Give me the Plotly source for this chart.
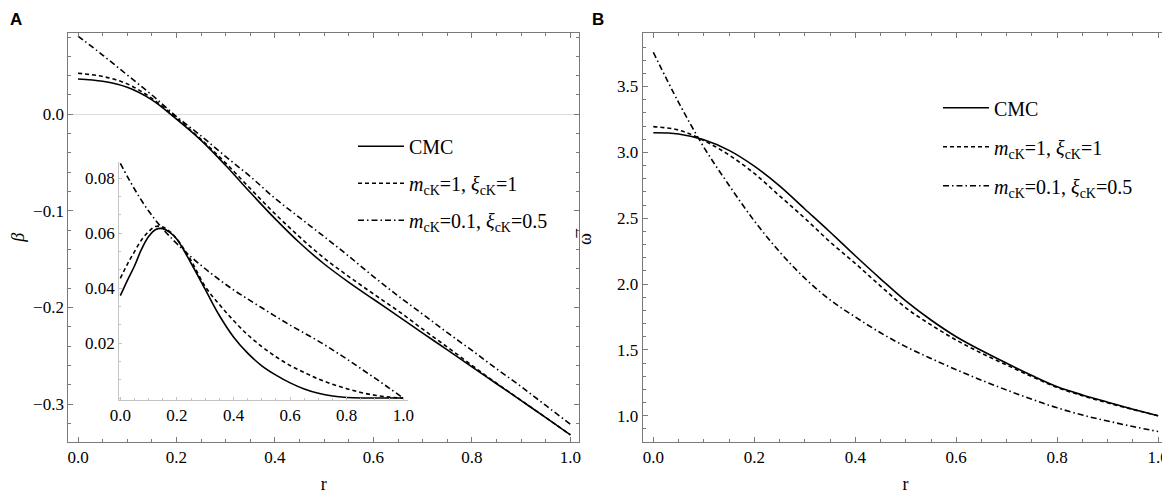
import plotly.graph_objects as go

# radial grid used for the main curves (every 0.05)
r = [0.00, 0.05, 0.10, 0.15, 0.20, 0.25, 0.30, 0.35, 0.40, 0.45, 0.50,
     0.55, 0.60, 0.65, 0.70, 0.75, 0.80, 0.85, 0.90, 0.95, 1.00]

# panel A: beta(r)
beta_cmc = [0.0366, 0.0342, 0.0280, 0.0150, -0.0050, -0.0270, -0.0530, -0.0810, -0.1080, -0.1330, -0.1550,
            -0.1740, -0.1915, -0.2090, -0.2265, -0.2440, -0.2615, -0.2790, -0.2965, -0.3140, -0.3320]
beta_m1 = [0.0425, 0.0392, 0.0315, 0.0165, -0.0040, -0.0260, -0.0505, -0.0770, -0.1030, -0.1270, -0.1490,
           -0.1680, -0.1860, -0.2035, -0.2225, -0.2410, -0.2600, -0.2785, -0.2962, -0.3140, -0.3320]
beta_m01 = [0.0810, 0.0614, 0.0407, 0.0200, -0.0024, -0.0224, -0.0438, -0.0645, -0.0870, -0.1070, -0.1267,
            -0.1470, -0.1680, -0.1880, -0.2070, -0.2260, -0.2445, -0.2635, -0.2820, -0.3015, -0.3210]

# inset: delta beta(r), finer steps near the peak
r_in = [0.000, 0.025, 0.050, 0.075, 0.100, 0.125, 0.150, 0.175, 0.200, 0.250, 0.300, 0.350, 0.400,
        0.450, 0.500, 0.550, 0.600, 0.650, 0.700, 0.750, 0.800, 0.850, 0.900, 0.950, 1.000]
dbeta_cmc = [0.0372, 0.0428, 0.0480, 0.0541, 0.0587, 0.0613, 0.0616, 0.0602, 0.0577, 0.0490, 0.0395, 0.0300, 0.0222,
             0.0163, 0.0117, 0.0083, 0.0055, 0.0033, 0.0017, 0.0007, 0.0002, 0.0000, 0.0000, 0.0000, 0.0000]
dbeta_m1 = [0.0435, 0.0487, 0.0532, 0.0575, 0.0605, 0.0624, 0.0622, 0.0605, 0.0578, 0.0500, 0.0405, 0.0340, 0.0282,
            0.0230, 0.0187, 0.0150, 0.0118, 0.0093, 0.0069, 0.0050, 0.0034, 0.0020, 0.0010, 0.0003, 0.0000]
dbeta_m01 = [0.0853, 0.0805, 0.0760, 0.0718, 0.0680, 0.0646, 0.0615, 0.0587, 0.0561, 0.0513, 0.0470, 0.0430, 0.0393,
             0.0360, 0.0328, 0.0296, 0.0265, 0.0236, 0.0207, 0.0175, 0.0142, 0.0107, 0.0072, 0.0036, 0.0000]

# panel B: omega bar(r)
omega_cmc = [3.149, 3.140, 3.095, 3.015, 2.895, 2.745, 2.570, 2.395, 2.215, 2.040, 1.872,
             1.727, 1.600, 1.495, 1.398, 1.305, 1.220, 1.158, 1.103, 1.050, 1.000]
omega_m1 = [3.195, 3.170, 3.090, 2.980, 2.840, 2.670, 2.500, 2.320, 2.157, 1.985, 1.820,
            1.690, 1.575, 1.475, 1.385, 1.297, 1.215, 1.152, 1.098, 1.048, 1.000]
omega_m01 = [3.760, 3.380, 3.040, 2.750, 2.480, 2.245, 2.045, 1.880, 1.750, 1.630, 1.525,
             1.435, 1.350, 1.270, 1.195, 1.125, 1.060, 1.005, 0.960, 0.918, 0.880]

names = ["CMC",
         "<i>m</i><sub>cK</sub>=1, <i>ξ</i><sub>cK</sub>=1",
         "<i>m</i><sub>cK</sub>=0.1, <i>ξ</i><sub>cK</sub>=0.5"]
dashes = ["solid", "4px,3px", "6px,3px,1.5px,3px"]

SERIF = "Liberation Serif"
FRAME = "#7a7a7a"
INSET = "#c4c4c4"
W, H = 1162, 486   # page body adds an 8px offset, so the figure is drawn 8px smaller

fig = go.Figure()

# panel A main curves
for i, ys in enumerate([beta_cmc, beta_m1, beta_m01]):
    fig.add_trace(go.Scatter(x=r, y=ys, mode="lines", name=names[i], line_shape="spline",
                             line=dict(color="black", width=1.6, dash=dashes[i]),
                             xaxis="x", yaxis="y", legend="legend", legendgroup="a%d" % i))

# inset curves
for i, ys in enumerate([dbeta_cmc, dbeta_m1, dbeta_m01]):
    fig.add_trace(go.Scatter(x=r_in, y=ys, mode="lines", showlegend=False, line_shape="spline",
                             line=dict(color="black", width=1.6, dash=dashes[i]),
                             xaxis="x3", yaxis="y3"))

# panel B curves
for i, ys in enumerate([omega_cmc, omega_m1, omega_m01]):
    fig.add_trace(go.Scatter(x=r, y=ys, mode="lines", name=names[i], line_shape="spline",
                             line=dict(color="black", width=1.6, dash=dashes[i]),
                             xaxis="x2", yaxis="y2", legend="legend2", legendgroup="b%d" % i))


def frame_axis(**kw):
    d = dict(showline=True, linecolor=FRAME, linewidth=1, mirror="ticks",
             ticks="inside", ticklen=5, tickcolor=FRAME, tickwidth=1,
             showgrid=False, zeroline=False, automargin=False,
             tickfont=dict(family=SERIF, size=17, color="black"),
             title_font=dict(family=SERIF, size=18, color="black"))
    d.update(kw)
    return d


def px_x(v):
    return v / W


def px_y(v):
    return (H - v) / H


minor_x = dict(dtick=0.05, tick0=0, ticks="inside", ticklen=3, tickcolor=FRAME, showgrid=False)

fig.update_layout(
    template="none",
    width=W, height=H,
    margin=dict(l=0, r=0, t=0, b=0),
    paper_bgcolor="white", plot_bgcolor="rgba(0,0,0,0)",
    font=dict(family=SERIF, size=17, color="black"),
    xaxis=frame_axis(domain=[px_x(60.3), px_x(571.3)], range=[-0.0197, 1.018], anchor="y",
                     dtick=0.2, tick0=0, tickformat=".1f", minor=minor_x,
                     title=dict(text="r", standoff=11)),
    yaxis=frame_axis(domain=[px_y(433.7), px_y(24.7)], range=[-0.339, 0.0845], anchor="x",
                     dtick=0.1, tick0=0, tickformat=".1f",
                     zeroline=True, zerolinecolor="#dcdcdc", zerolinewidth=1,
                     minor=dict(dtick=0.02, tick0=0, ticks="inside", ticklen=3, tickcolor=FRAME, showgrid=False),
                     title=dict(text="<i>β</i>", standoff=11)),
    xaxis2=frame_axis(domain=[px_x(634.7), px_x(1160.3)], range=[-0.021, 1.02], anchor="y2",
                      dtick=0.2, tick0=0, tickformat=".1f", minor=minor_x,
                      title=dict(text="r", standoff=11)),
    yaxis2=frame_axis(domain=[px_y(433.7), px_y(25.3)], range=[0.803, 3.904], anchor="x2",
                      dtick=0.5, tick0=0, tickformat=".1f",
                      minor=dict(dtick=0.1, tick0=0, ticks="inside", ticklen=3, tickcolor=FRAME, showgrid=False)),
    xaxis3=dict(domain=[px_x(111.2), px_x(400.1)], range=[-0.004, 1.017], anchor="y3",
                showline=True, linecolor=INSET, linewidth=1, mirror=False,
                ticks="inside", ticklen=3, tickcolor=INSET, dtick=0.2, tick0=0, tickformat=".1f",
                minor=dict(dtick=0.05, tick0=0, ticks="inside", ticklen=2, tickcolor=INSET, showgrid=False),
                showgrid=False, zeroline=False, automargin=False,
                tickfont=dict(family=SERIF, size=17, color="black")),
    yaxis3=dict(domain=[px_y(391.65), px_y(153.5)], range=[-0.0006, 0.086], anchor="x3",
                showline=True, linecolor=INSET, linewidth=1, mirror=False,
                ticks="inside", ticklen=3, tickcolor=INSET,
                tickvals=[0.02, 0.04, 0.06, 0.08], tickformat=".2f",
                minor=dict(dtick=0.02 / 3, tick0=0, ticks="inside", ticklen=2, tickcolor=INSET, showgrid=False),
                showgrid=False, zeroline=False, automargin=False,
                tickfont=dict(family=SERIF, size=17, color="black")),
    legend=dict(x=px_x(345), y=px_y(118.7), xanchor="left", yanchor="top", bgcolor="rgba(0,0,0,0)",
                font=dict(family=SERIF, size=20, color="black"), tracegroupgap=8, itemwidth=46),
    legend2=dict(x=px_x(930), y=px_y(80.3), xanchor="left", yanchor="top", bgcolor="rgba(0,0,0,0)",
                 font=dict(family=SERIF, size=20, color="black"), tracegroupgap=10, itemwidth=46),
    annotations=[
        dict(text="<b>A</b>", x=0, y=1, xref="paper", yref="paper", xanchor="left", yanchor="top",
             showarrow=False, font=dict(family="Liberation Sans", size=17, color="black")),
        dict(text="<b>B</b>", x=px_x(582), y=1, xref="paper", yref="paper", xanchor="left", yanchor="top",
             showarrow=False, font=dict(family="Liberation Sans", size=17, color="black")),
        # y title of panel B (omega with an overbar)
        dict(text="ω\u0305", x=px_x(577), y=px_y(229), xref="paper", yref="paper", textangle=-90,
             showarrow=False, font=dict(family=SERIF, size=18, color="black")),
        dict(text="<i>δβ</i>", x=0, y=0.0914, xref="x3", yref="y3", showarrow=False,
             font=dict(family=SERIF, size=17, color="black")),
        dict(text="r", x=1.065, y=0, xref="x3", yref="y3", showarrow=False,
             font=dict(family=SERIF, size=18, color="black")),
    ],
)

fig.write_html("out.html")
